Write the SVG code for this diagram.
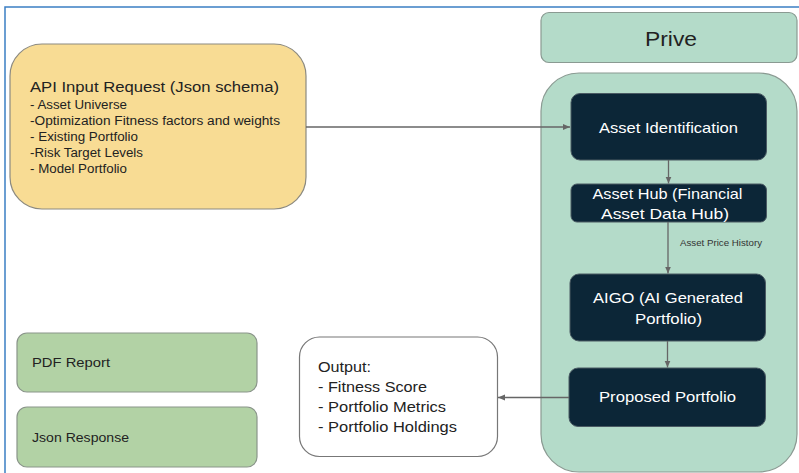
<svg xmlns="http://www.w3.org/2000/svg" width="799" height="473" viewBox="0 0 799 473">
<defs>
<marker id="ah" markerWidth="8" markerHeight="8" refX="7" refY="4" orient="auto" markerUnits="userSpaceOnUse">
<path d="M0,1 L7,4 L0,7 z" fill="#666"/>
</marker>
<style>
text{font-family:"Liberation Sans",Arial,sans-serif;}
.dark rect{fill:#0c2637;stroke:#4a5a63;stroke-width:1;}
.dark text{fill:#ffffff;font-size:15px;text-anchor:middle;}
.green rect{fill:#b2d2a5;stroke:#8a958a;stroke-width:1.2;}
.green text{fill:#222;font-size:13.5px;}
.conn line{stroke:#666;stroke-width:1.3;fill:none;}
.item{font-size:12px;fill:#222;}
.out{font-size:15px;fill:#222;}
</style>
</defs>
<rect x="0" y="0" width="799" height="473" fill="#ffffff"/>
<path d="M5,473 V7 H799" fill="none" stroke="#3b7fc4" stroke-width="1.5"/>

<g id="prive-title">
<rect x="541" y="12.5" width="256" height="50" rx="8" fill="#b4dbc9" stroke="#8a9a92" stroke-width="1.2"/>
<text x="671" y="46" font-size="21" fill="#222" text-anchor="middle" textLength="52" lengthAdjust="spacingAndGlyphs">Prive</text>
</g>

<g id="prive-container">
<rect x="541" y="73" width="256" height="399" rx="38" fill="#b4dbc9" stroke="#8a9a92" stroke-width="1.2"/>
</g>

<g id="api-input">
<rect x="10" y="44" width="296" height="165" rx="32" fill="#f8dc94" stroke="#8c8a80" stroke-width="1.2"/>
<text x="30" y="92" font-size="15.5" fill="#222" textLength="249" lengthAdjust="spacingAndGlyphs">API Input Request (Json schema)</text>
<text class="item" x="30" y="108.5" textLength="97" lengthAdjust="spacingAndGlyphs">- Asset Universe</text>
<text class="item" x="30" y="124.5" textLength="250" lengthAdjust="spacingAndGlyphs">-Optimization Fitness factors and weights</text>
<text class="item" x="30" y="140.5" textLength="108" lengthAdjust="spacingAndGlyphs">- Existing Portfolio</text>
<text class="item" x="30" y="157" textLength="113" lengthAdjust="spacingAndGlyphs">-Risk Target Levels</text>
<text class="item" x="30" y="173" textLength="97" lengthAdjust="spacingAndGlyphs">- Model Portfolio</text>
</g>

<g id="asset-identification" class="dark">
<rect x="571" y="93.5" width="195.5" height="66.5" rx="9"/>
<text x="668.5" y="133" textLength="139" lengthAdjust="spacingAndGlyphs">Asset Identification</text>
</g>

<g id="asset-hub" class="dark">
<rect x="571" y="184" width="195.5" height="38" rx="6"/>
<text x="667.5" y="199" textLength="150" lengthAdjust="spacingAndGlyphs">Asset Hub (Financial</text>
<text x="665" y="219" textLength="128" lengthAdjust="spacingAndGlyphs">Asset Data Hub)</text>
</g>

<g id="aigo" class="dark">
<rect x="570" y="274" width="195.5" height="67" rx="9"/>
<text x="668" y="303" textLength="150" lengthAdjust="spacingAndGlyphs">AIGO (AI Generated</text>
<text x="668.5" y="323.5" textLength="67" lengthAdjust="spacingAndGlyphs">Portfolio)</text>
</g>

<g id="proposed-portfolio" class="dark">
<rect x="569" y="368" width="196.5" height="58.5" rx="9"/>
<text x="667.5" y="402" textLength="137" lengthAdjust="spacingAndGlyphs">Proposed Portfolio</text>
</g>

<g id="output">
<rect x="299.5" y="337" width="198" height="119.5" rx="20" fill="#ffffff" stroke="#777" stroke-width="1.2"/>
<text class="out" x="318" y="372" textLength="53" lengthAdjust="spacingAndGlyphs">Output:</text>
<text class="out" x="318" y="392" textLength="109" lengthAdjust="spacingAndGlyphs">- Fitness Score</text>
<text class="out" x="318" y="412" textLength="128" lengthAdjust="spacingAndGlyphs">- Portfolio Metrics</text>
<text class="out" x="318" y="432" textLength="139" lengthAdjust="spacingAndGlyphs">- Portfolio Holdings</text>
</g>

<g id="pdf-report" class="green">
<rect x="17" y="333" width="240" height="59" rx="10"/>
<text x="32" y="367" textLength="78" lengthAdjust="spacingAndGlyphs">PDF Report</text>
</g>

<g id="json-response" class="green">
<rect x="17" y="407" width="240" height="60" rx="10"/>
<text x="32" y="442" textLength="97" lengthAdjust="spacingAndGlyphs">Json Response</text>
</g>

<g id="connectors" class="conn">
<line x1="306" y1="127" x2="570" y2="127" marker-end="url(#ah)"/>
<line x1="668.5" y1="160" x2="668.5" y2="183.5" marker-end="url(#ah)"/>
<line x1="668" y1="222" x2="668" y2="273.5" marker-end="url(#ah)"/>
<line x1="667.5" y1="341" x2="667.5" y2="367.5" marker-end="url(#ah)"/>
<line x1="569" y1="397.5" x2="498" y2="397.5" marker-end="url(#ah)"/>
<text x="680" y="246" font-size="9" fill="#333" stroke="none" textLength="82" lengthAdjust="spacingAndGlyphs">Asset Price History</text>
</g>
</svg>
